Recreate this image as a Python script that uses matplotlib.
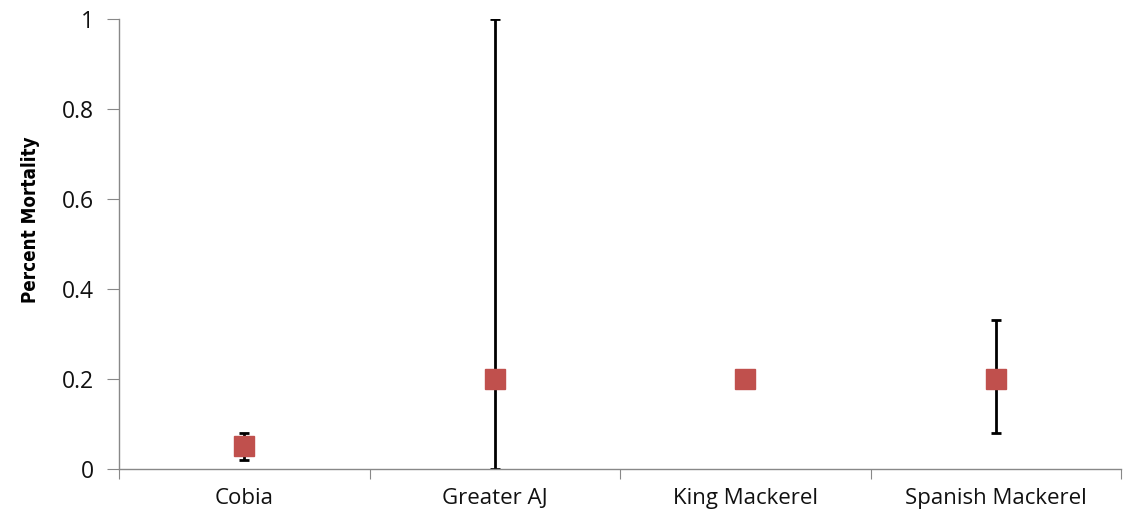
import matplotlib
matplotlib.use("Agg")
import matplotlib.pyplot as plt
import numpy as np

categories = ["Cobia", "Greater AJ", "King Mackerel", "Spanish Mackerel"]
values = [0.05, 0.2, 0.2, 0.2]
lower = [0.02, 0.0, 0.2, 0.08]
upper = [0.08, 1.0, 0.2, 0.33]
yticks = [0, 0.2, 0.4, 0.6, 0.8, 1]
ytick_labels = ["0", "0.2", "0.4", "0.6", "0.8", "1"]

fig = plt.figure(figsize=(11.38, 5.12), dpi=100)
ax = fig.add_axes([119/1138, 43/512, (1121-119)/1138, (469-18.5)/512])

x = np.arange(len(categories)) + 0.5
yerr = [np.array(values) - np.array(lower), np.array(upper) - np.array(values)]
ax.errorbar(x, values, yerr=yerr, fmt="none", ecolor="black", elinewidth=2, capsize=3.5, capthick=2, zorder=2)
ax.plot(x, values, "s", color="#C0504D", markersize=14, zorder=3, linestyle="none")

ax.set_xlim(0, 4)
ax.set_ylim(0, 1)
ax.set_xticks([0, 1, 2, 3, 4])
ax.set_xticklabels([])
ax.set_xticks(x, minor=True)
ax.set_xticklabels(categories, minor=True, fontsize=16, family="Open Sans", color="#111111")
ax.tick_params(axis="x", which="minor", length=0, pad=14)
ax.tick_params(axis="x", which="major", length=7, color="#888888")
ax.set_yticks(yticks)
ax.set_yticklabels(ytick_labels, fontsize=16.5, family="Open Sans", color="#111111")
ax.tick_params(axis="y", length=9, color="#888888", pad=9)

for s in ["top", "right"]:
    ax.spines[s].set_visible(False)
for s in ["left", "bottom"]:
    ax.spines[s].set_color("#888888")
    ax.spines[s].set_linewidth(1)

ax.set_ylabel("Percent Mortality", fontsize=13.5, family="DejaVu Sans", fontstretch="condensed",
              fontweight="bold")
ax.yaxis.set_label_coords(-79/1002, 0.553)

fig.savefig("out.png", dpi=100)
